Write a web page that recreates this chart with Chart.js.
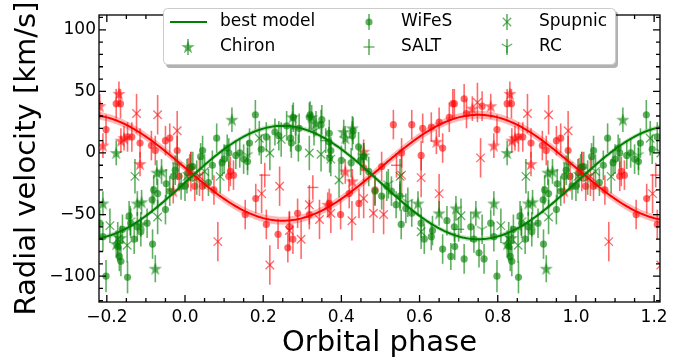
<!DOCTYPE html>
<html>
<head>
<meta charset="utf-8">
<script src="https://cdn.jsdelivr.net/npm/chart.js@4.4.1/dist/chart.umd.min.js"></script>
<style>
  body { margin: 0; background: #fff; }
  #wrap { position: relative; width: 692px; height: 360px; }
</style>
</head>
<body>
<div id="wrap"><canvas id="rv"></canvas></div>
<script>
// axis ticks
const phaseTicks = [-0.2, 0.0, 0.2, 0.4, 0.6, 0.8, 1.0, 1.2];
const phaseTickLabels = ['−0.2', '0.0', '0.2', '0.4', '0.6', '0.8', '1.0', '1.2'];
const rvTicks = [-100, -50, 0, 50, 100];
const rvTickLabels = ['−100', '−50', '0', '50', '100'];
const legendLabels = ['best model', 'Chiron', 'WiFeS', 'SALT', 'Spupnic', 'RC'];

// best model (systemic velocity, semi-amplitude)
const greenGamma = -24, greenK = 46;
const redGamma = -12, redK = 43;

// [phase, rv, error] ... green component
const greenWifes = [
  [0.000,-27,12],[0.012,-12,11],[0.020,-11,12],[0.040,-3,11],[0.045,2,12],[0.060,-24,11],[0.070,-10,12],[0.081,12,12],[0.095,-8,11],
  [0.100,-5,12],[0.108,4,11],[0.112,0,12],[0.130,-2,11],[0.140,0,12],[0.150,-5,12],[0.160,-7,11],[0.165,8,12],[0.180,31,12],[0.195,3,12],
  [0.208,13,12],[0.230,17,11],[0.240,14,12],[0.260,22,12],[0.270,12,11],[0.272,8,12],[0.277,29,12],[0.290,4,11],[0.292,20,12],
  [0.318,29,12],[0.320,31,11],[0.348,23,12],[0.350,27,12],[0.368,9,12],[0.369,16,11],[0.370,-4,12],[0.373,2,11],[0.400,-6,12],
  [0.425,-8,12],[0.428,14,12],[0.430,18,11],[0.444,5,12],[0.449,-6,12],[0.457,-3,11],[0.470,-15,12],[0.486,-31,12],
  [0.503,-35,11],[0.516,-27,12],[0.528,-31,12],[0.540,-42,11],[0.550,-35,12],[0.553,-58,12],[0.565,-45,12],[0.580,-49,11],
  [0.604,-57,12],[0.612,-70,12],[0.630,-68,11],[0.633,-63,12],[0.659,-78,12],[0.670,-55,12],[0.680,-84,11],[0.689,-60,12],[0.690,-76,11],
  [0.714,-86,12],[0.731,-60,12],[0.739,-70,11],[0.752,-81,12],[0.765,-86,12],[0.782,-57,11],[0.790,-68,12],[0.798,-100,13],
  [0.828,-76,12],[0.832,-84,12],[0.836,-88,12],[0.840,-62,12],[0.853,-101,13],[0.857,-51,12],[0.861,-57,12],[0.870,-70,12],[0.878,-60,12],[0.887,-64,12],
  [0.903,-57,12],[0.916,-38,11],[0.917,-74,12],[0.920,-30,12],[0.930,-33,12],[0.950,-46,12],[0.952,-25,12],[0.961,-31,12],[0.970,-19,11],[0.975,-14,12],[0.990,-27,11]
];
const greenChiron = [
  [0.120,27,10],[0.275,29,10],[0.324,29,10],[0.335,24,10],[0.406,17,10],[0.410,12,10],[0.428,20,10],[0.457,-2,10],
  [0.596,-41,10],[0.650,-49,10],[0.693,-45,10],[0.744,-49,10],[0.790,-41,10],[0.824,0,10],[0.824,-74,11],[0.835,-69,10],
  [0.878,-41,10],[0.887,-58,10],[0.889,-40,10],[0.924,-94,11],[0.928,-16,10],[0.940,-15,10]
];
const greenSalt = [[0.360,10,10],[0.550,-35,10],[0.700,-62,10]];
const greenSpupnic = [
  [0.005,-19,14],[0.030,-20,14],[0.050,-15,14],[0.090,-19,14],[0.190,12,14],[0.217,0,14],[0.246,11,14],[0.318,0,14],
  [0.348,-1,14],[0.373,-5,14],[0.394,-22,14],[0.550,-19,14],[0.604,-64,14],[0.706,-51,14],[0.808,-59,14],[0.828,-70,14],
  [0.852,-75,14],[0.872,-19,14],[0.930,-52,14]
];
const greenRc = [[0.160,-2,12],[0.283,19,12],[0.330,18,12],[0.520,-25,12],[0.570,-40,12],[0.760,-62,12],[0.860,-55,12],[0.980,-10,12]];

// red component
const redWifes = [
  [0.008,-16,12],[0.015,-11,12],[0.025,-27,12],[0.045,-27,12],[0.074,-30,12],[0.112,-19,12],[0.116,-15,12],[0.124,-18,12],[0.154,-50,12],[0.181,-37,12],
  [0.208,-58,12],[0.238,-66,12],[0.263,-77,12],[0.267,-60,12],[0.276,-70,12],[0.288,-49,12],[0.318,-50,12],[0.369,-41,12],[0.398,-50,12],
  [0.420,-33,12],[0.445,-41,12],[0.457,-12,12],[0.486,-30,12],
  [0.503,-11,12],[0.533,23,12],[0.554,0,12],[0.580,23,12],[0.604,-2,12],[0.608,20,12],[0.630,21,12],[0.650,25,12],[0.659,4,12],
  [0.676,29,12],[0.685,40,12],[0.689,40,12],[0.714,44,12],[0.720,32,12],[0.760,38,12],
  [0.798,19,12],[0.824,40,12],[0.835,40,12],[0.853,13,12],[0.864,13,12],[0.885,8,12],[0.914,6,12],[0.924,2,12],[0.950,10,12],
  [0.961,12,12],[0.980,2,12],[0.985,-19,12]
];
const redChiron = [
  [0.365,-42,10],[0.410,-15,10],[0.428,-23,10],[0.457,1,10],[0.643,9,10],[0.735,36,10],[0.782,38,10],[0.790,6,10],
  [0.831,48,10],[0.836,10,10],[0.844,12,10],[0.885,-9,10],[0.970,-31,10]
];
const redSalt = [[0.204,-18,10],[0.327,-28,10],[0.541,-10,10]];
const redSpupnic = [
  [0.015,-15,16],[0.037,-19,16],[0.084,-72,16],[0.196,-33,16],[0.217,-91,16],[0.242,-27,16],[0.267,-63,16],[0.297,-70,16],
  [0.318,-42,16],[0.344,-54,16],[0.373,-49,16],[0.427,-55,16],[0.457,-37,16],[0.482,-49,16],[0.508,-50,16],[0.554,-18,16],
  [0.604,-20,16],[0.650,-33,16],[0.748,41,16],[0.756,-4,16],[0.876,32,16],[0.930,31,16],[0.980,18,16]
];

const xMin = -0.22, xMax = 1.215, yMin = -121, yMax = 112;
const GREEN = 'rgba(0,128,0,0.62)', RED = 'rgba(255,0,0,0.58)';

Chart.defaults.font.family = '"DejaVu Sans"';

// points are shown twice where the folded phase range allows it
function folded(points) {
  const out = [];
  points.forEach(([p, v, e]) => {
    [p - 1, p, p + 1].forEach(q => {
      if (q >= xMin - 0.01 && q <= xMax + 0.01) out.push({x: q, y: v, e: e});
    });
  });
  return out;
}

function starImage(color) {
  const c = document.createElement('canvas');
  c.width = c.height = 16;
  const g = c.getContext('2d');
  g.fillStyle = color;
  g.beginPath();
  for (let i = 0; i < 10; i++) {
    const r = i % 2 ? 2.7 : 7;
    const a = -Math.PI / 2 + i * Math.PI / 5;
    const px = 8 + r * Math.cos(a), py = 8.5 + r * Math.sin(a);
    if (i) g.lineTo(px, py); else g.moveTo(px, py);
  }
  g.closePath();
  g.fill();
  return c;
}

function triImage(color) {
  const c = document.createElement('canvas');
  c.width = c.height = 16;
  const g = c.getContext('2d');
  g.strokeStyle = color;
  g.lineWidth = 1.4;
  g.beginPath();
  [[0, 6], [-5.2, -3], [5.2, -3]].forEach(([dx, dy]) => { g.moveTo(8, 8); g.lineTo(8 + dx, 8 + dy); });
  g.stroke();
  return c;
}

const starGreen = starImage(GREEN), starRed = starImage(RED);
const triGreen = triImage(GREEN);

function markers(label, pts, color, style) {
  const ds = {label: label, data: folded(pts), errColor: color, showLine: false,
    backgroundColor: color, borderColor: color, borderWidth: 0, pointRadius: 3.6, pointStyle: style};
  if (style === 'crossRot') { ds.borderWidth = 1.3; ds.pointRadius = 6; }
  if (style === 'line') { ds.borderWidth = 1.4; ds.pointRadius = 5.5; }
  return ds;
}

const modelPhases = Array.from({length: 289}, (_, i) => xMin + i * 0.005);
function model(gamma, k, sign, off) {
  return modelPhases.map(p => ({x: p, y: gamma + sign * k * Math.sin(2 * Math.PI * p) + off}));
}

const datasets = [
  {label: 'green model', data: model(greenGamma, greenK, 1, 0), showLine: true, borderColor: '#008000', borderWidth: 2, pointRadius: 0},
  {label: 'red model', data: model(redGamma, redK, -1, 0), showLine: true, borderColor: '#ff0000', borderWidth: 2, pointRadius: 0},
  {label: 'red hi', data: model(redGamma, redK, -1, 3.2), showLine: true, borderWidth: 0, pointRadius: 0, fill: '+1', backgroundColor: 'rgba(255,0,0,0.28)'},
  {label: 'red lo', data: model(redGamma, redK, -1, -3.2), showLine: true, borderWidth: 0, pointRadius: 0},
  {label: 'green hi', data: model(greenGamma, greenK, 1, 2), showLine: true, borderWidth: 0, pointRadius: 0, fill: '+1', backgroundColor: 'rgba(0,128,0,0.22)'},
  {label: 'green lo', data: model(greenGamma, greenK, 1, -2), showLine: true, borderWidth: 0, pointRadius: 0},
  markers('Chiron', greenChiron, GREEN, starGreen),
  markers('WiFeS', greenWifes, GREEN, 'circle'),
  markers('SALT', greenSalt, GREEN, 'line'),
  markers('Spupnic', greenSpupnic, GREEN, 'crossRot'),
  markers('RC', greenRc, GREEN, triGreen),
  markers('Chiron', redChiron, RED, starRed),
  markers('WiFeS', redWifes, RED, 'circle'),
  markers('SALT', redSalt, RED, 'line'),
  markers('Spupnic', redSpupnic, RED, 'crossRot')
];

const errorBars = {
  id: 'errorBars',
  beforeDatasetDraw(chart, args) {
    const ds = chart.data.datasets[args.index];
    if (!ds.errColor) return;
    const {ctx, chartArea: a} = chart;
    const y = chart.scales.y;
    ctx.save();
    ctx.beginPath();
    ctx.rect(a.left, a.top, a.width, a.height);
    ctx.clip();
    ctx.strokeStyle = ds.errColor;
    ctx.lineWidth = 1.6;
    args.meta.data.forEach((pt, i) => {
      const d = ds.data[i];
      ctx.beginPath();
      ctx.moveTo(pt.x, y.getPixelForValue(d.y + d.e));
      ctx.lineTo(pt.x, y.getPixelForValue(d.y - d.e));
      ctx.stroke();
    });
    ctx.restore();
  }
};

const frame = {
  id: 'frame',
  afterDraw(chart) {
    const {ctx, chartArea: a, scales: {x, y}} = chart;
    ctx.save();
    ctx.strokeStyle = '#000';
    ctx.lineWidth = 1.3;
    ctx.strokeRect(a.left, a.top, a.width, a.height);
    ctx.beginPath();
    const xt = (v, len) => {
      const px = x.getPixelForValue(v);
      if (px <= a.left + 0.5 || px >= a.right - 0.5) return;
      ctx.moveTo(px, a.bottom); ctx.lineTo(px, a.bottom - len);
      ctx.moveTo(px, a.top); ctx.lineTo(px, a.top + len);
    };
    const yt = (v, len) => {
      const py = y.getPixelForValue(v);
      if (py <= a.top + 0.5 || py >= a.bottom - 0.5) return;
      ctx.moveTo(a.left, py); ctx.lineTo(a.left + len, py);
      ctx.moveTo(a.right, py); ctx.lineTo(a.right - len, py);
    };
    for (let i = -4; i <= 24; i++) xt(i * 0.05, i % 4 === 0 ? 7 : 4);
    for (let v = -120; v <= 110; v += 10) yt(v, v % 50 === 0 ? 7 : 4);
    ctx.stroke();

    // axis titles
    ctx.fillStyle = '#000';
    ctx.font = '29px "DejaVu Sans"';
    ctx.textAlign = 'center';
    ctx.textBaseline = 'alphabetic';
    ctx.fillText('Orbital phase', (a.left + a.right) / 2, 351);
    ctx.translate(35, (a.top + a.bottom) / 2);
    ctx.rotate(-Math.PI / 2);
    ctx.fillText('Radial velocity [km/s]', 0, 0);
    ctx.restore();

    // legend
    ctx.save();
    ctx.fillStyle = 'rgba(0,0,0,0.3)';
    ctx.beginPath(); ctx.roundRect(166, 11, 452, 57, 4); ctx.fill();
    ctx.fillStyle = '#fff';
    ctx.strokeStyle = '#cccccc';
    ctx.lineWidth = 1;
    ctx.beginPath(); ctx.roundRect(163.5, 8.5, 452, 56, 4); ctx.fill(); ctx.stroke();
    const rows = [22, 47], cols = [188, 369, 507];
    const bar = (cx, cy) => {
      ctx.strokeStyle = GREEN; ctx.lineWidth = 1.6;
      ctx.beginPath(); ctx.moveTo(cx, cy - 8); ctx.lineTo(cx, cy + 8); ctx.stroke();
    };
    ctx.strokeStyle = '#008000'; ctx.lineWidth = 2;
    ctx.beginPath(); ctx.moveTo(170, rows[0]); ctx.lineTo(207, rows[0]); ctx.stroke();
    bar(cols[0], rows[1]); ctx.drawImage(starGreen, cols[0] - 8, rows[1] - 8);
    bar(cols[1], rows[0]); ctx.fillStyle = GREEN; ctx.beginPath(); ctx.arc(cols[1], rows[0], 3.6, 0, 2 * Math.PI); ctx.fill();
    bar(cols[1], rows[1]); ctx.strokeStyle = GREEN; ctx.lineWidth = 1.4;
    ctx.beginPath(); ctx.moveTo(cols[1] - 5.5, rows[1]); ctx.lineTo(cols[1] + 5.5, rows[1]); ctx.stroke();
    bar(cols[2], rows[0]); ctx.strokeStyle = GREEN; ctx.lineWidth = 1.3;
    ctx.beginPath();
    ctx.moveTo(cols[2] - 4.2, rows[0] - 4.2); ctx.lineTo(cols[2] + 4.2, rows[0] + 4.2);
    ctx.moveTo(cols[2] + 4.2, rows[0] - 4.2); ctx.lineTo(cols[2] - 4.2, rows[0] + 4.2);
    ctx.stroke();
    bar(cols[2], rows[1]); ctx.drawImage(triGreen, cols[2] - 8, rows[1] - 8);
    ctx.fillStyle = '#000';
    ctx.font = '17px "DejaVu Sans"';
    ctx.textBaseline = 'middle';
    ctx.textAlign = 'left';
    legendLabels.forEach((t, i) => ctx.fillText(t, cols[Math.floor(i / 2)] + 32, rows[i % 2]));
    ctx.restore();
  }
};

new Chart(document.getElementById('rv'), {
  type: 'scatter',
  data: {datasets: datasets},
  options: {
    responsive: true,
    maintainAspectRatio: false,
    animation: false,
    layout: {padding: {top: 15, right: 32, left: 0, bottom: 0}},
    plugins: {legend: {display: false}, tooltip: {enabled: false}},
    scales: {
      x: {
        type: 'linear', min: xMin, max: xMax,
        grid: {display: false, drawTicks: false}, border: {display: false},
        afterBuildTicks: s => { s.ticks = phaseTicks.map(v => ({value: v})); },
        afterFit: s => { s.height = 58; },
        ticks: {color: '#000', font: {size: 17}, padding: 5, maxRotation: 0, autoSkip: false,
          callback: (v, i) => phaseTickLabels[i]}
      },
      y: {
        type: 'linear', min: yMin, max: yMax,
        grid: {display: false, drawTicks: false}, border: {display: false},
        afterBuildTicks: s => { s.ticks = rvTicks.map(v => ({value: v})); },
        afterFit: s => { s.width = 99; },
        ticks: {color: '#000', font: {size: 17}, padding: 3, autoSkip: false,
          callback: (v, i) => rvTickLabels[i]}
      }
    }
  },
  plugins: [errorBars, frame]
});
</script>
</body>
</html>
